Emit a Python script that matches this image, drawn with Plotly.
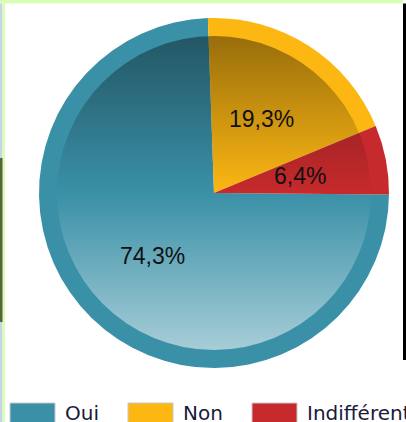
import base64
import math

import plotly.graph_objects as go

labels = ["Oui", "Non", "Indifférent"]
values = [74.3, 19.3, 6.4]
value_text = ["74,3%", "19,3%", "6,4%"]
colors = ["#3a90a7", "#fdb713", "#c62a2c"]

W, H = 406, 422
cx, cy, r_out, r_in = 214, 193, 175, 157
tilt = 2  # slices start a little before 12 o'clock

fig = go.Figure()

# "Oui" starts where "Indifférent" ends so Non sits at 12 o'clock
total = sum(values)
oui_span = 360 * values[0] / total
fig.add_trace(
    go.Pie(
        labels=labels,
        values=values,
        textinfo="none",
        sort=False,
        direction="clockwise",
        rotation=-oui_span - tilt,
        marker=dict(colors=colors, line=dict(width=0)),
        domain=dict(
            x=[(cx - r_out) / W, (cx + r_out) / W],
            y=[(H - cy - r_out) / H, (H - cy + r_out) / H],
        ),
        showlegend=False,
        hoverinfo="label+percent",
    )
)

# glossy gradient on the inner disc
svg = (
    '<svg xmlns="http://www.w3.org/2000/svg" viewBox="0 0 100 100" '
    'preserveAspectRatio="none"><defs><linearGradient id="g" x1="0" y1="0" x2="0" y2="1">'
    '<stop offset="0" stop-color="#000" stop-opacity="0.40"/>'
    '<stop offset="0.5" stop-color="#000" stop-opacity="0"/>'
    '<stop offset="0.5" stop-color="#fff" stop-opacity="0"/>'
    '<stop offset="1" stop-color="#fff" stop-opacity="0.55"/>'
    '</linearGradient></defs><circle cx="50" cy="50" r="50" fill="url(#g)"/></svg>'
)
fig.add_layout_image(
    source="data:image/svg+xml;base64," + base64.b64encode(svg.encode()).decode(),
    xref="paper", yref="paper",
    x=(cx - r_in) / W, y=(H - cy + r_in) / H,
    sizex=2 * r_in / W, sizey=2 * r_in / H,
    sizing="stretch", layer="above",
)

# value labels at half radius on each slice's mid angle
a0 = 360 - oui_span - tilt  # clockwise angle from top where "Oui" begins
for v, t in zip(values, value_text):
    span = 360 * v / total
    mid = math.radians(a0 + span / 2)
    x = cx + 0.5 * r_out * math.sin(mid)
    y = cy - 0.5 * r_out * math.cos(mid)
    fig.add_annotation(
        text=t, xref="paper", yref="paper", x=x / W, y=(H - y) / H,
        xanchor="center", yanchor="middle", showarrow=False,
        font=dict(family="Liberation Sans", size=23, color="#111111"),
    )
    a0 += span

# legend drawn by hand (wide swatches)
sw_x = [10, 128, 252]
for lab, col, x0 in zip(labels, colors, sw_x):
    fig.add_shape(
        type="rect", xref="paper", yref="paper",
        x0=x0 / W, x1=(x0 + 45) / W, y0=-0.01, y1=(H - 403) / H,
        fillcolor=col, line=dict(color="#c8c8c8", width=1),
    )
    fig.add_annotation(
        text=lab, xref="paper", yref="paper", x=(x0 + 53) / W, y=(H - 413) / H,
        xanchor="left", yanchor="middle", showarrow=False,
        font=dict(family="DejaVu Sans", size=20, color="#1a1a3a"),
    )

# screenshot edges
edges = [
    (0, W - 3, 0, 3.5, "#d8ffb6"),
    (0, 2.5, 3.5, H, "#c9d4e6"),
    (2.5, 5, 3.5, H, "#d8ffb6"),
    (0, 2.5, 158, 322, "#56663a"),
    (403, W, 3.5, 360, "#000000"),
]
for x0, x1, y0, y1, col in edges:
    fig.add_shape(
        type="rect", xref="paper", yref="paper",
        x0=x0 / W, x1=x1 / W, y0=(H - y1) / H, y1=(H - y0) / H,
        fillcolor=col, line=dict(width=0), layer="above",
    )

fig.update_layout(
    width=W, height=H,
    margin=dict(t=0, l=0, b=0, r=0),
    paper_bgcolor="white",
    plot_bgcolor="white",
)

fig.write_html(
    "out.html",
    config={"displayModeBar": False},
    post_script="document.body.style.margin='0';",
)
